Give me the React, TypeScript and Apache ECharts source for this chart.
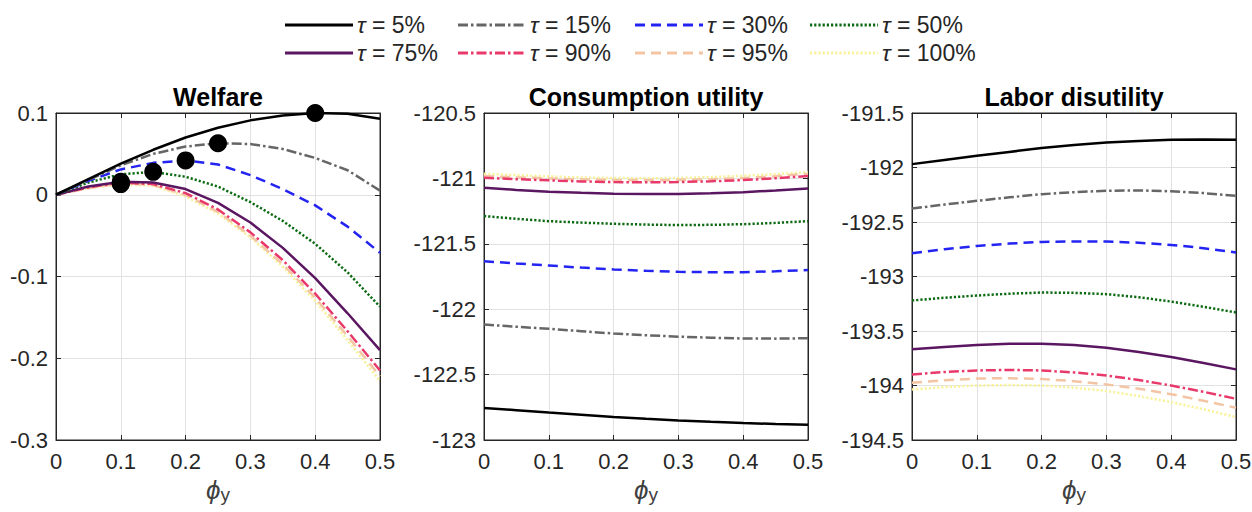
import React, { useEffect, useRef } from "react";
import * as echarts from "echarts";

// ---------- data ----------
const phiY = [0, 0.05, 0.1, 0.15, 0.2, 0.25, 0.3, 0.35, 0.4, 0.45, 0.5];
const tauLabels = ["τ = 5%", "τ = 15%", "τ = 30%", "τ = 50%", "τ = 75%", "τ = 90%", "τ = 95%", "τ = 100%"];
const panelTitles = ["Welfare", "Consumption utility", "Labor disutility"];

const welfare5 = [0, 0.019, 0.038, 0.055, 0.07, 0.082, 0.091, 0.097, 0.1, 0.099, 0.093];
const welfare15 = [0, 0.018, 0.036, 0.05, 0.059, 0.063, 0.062, 0.056, 0.045, 0.03, 0.005];
const welfare30 = [0, 0.017, 0.031, 0.039, 0.042, 0.037, 0.024, 0.007, -0.013, -0.039, -0.071];
const welfare50 = [0, 0.015, 0.025, 0.028, 0.022, 0.01, -0.009, -0.032, -0.06, -0.095, -0.137];
const welfare75 = [0, 0.01, 0.016, 0.015, 0.007, -0.01, -0.034, -0.065, -0.102, -0.145, -0.19];
const welfare90 = [0, 0.009, 0.015, 0.013, 0.002, -0.018, -0.046, -0.08, -0.121, -0.167, -0.215];
const welfare95 = [0, 0.008, 0.014, 0.012, 0.0, -0.021, -0.05, -0.085, -0.126, -0.173, -0.222];
const welfare100 = [0, 0.008, 0.013, 0.011, -0.002, -0.023, -0.052, -0.088, -0.13, -0.178, -0.228];

const optimumPhi = [0.4, 0.25, 0.2, 0.15, 0.1, 0.1, 0.1, 0.1];
const optimumWelfare = [0.1, 0.063, 0.042, 0.028, 0.016, 0.015, 0.014, 0.013];

const cons5 = [-122.755, -122.772, -122.79, -122.807, -122.824, -122.838, -122.85, -122.861, -122.87, -122.878, -122.883];
const cons15 = [-122.117, -122.134, -122.15, -122.168, -122.186, -122.199, -122.21, -122.218, -122.224, -122.225, -122.222];
const cons30 = [-121.633, -121.65, -121.666, -121.682, -121.696, -121.706, -121.714, -121.717, -121.717, -121.71, -121.7];
const cons50 = [-121.288, -121.309, -121.327, -121.338, -121.347, -121.353, -121.357, -121.355, -121.35, -121.34, -121.327];
const cons75 = [-121.071, -121.088, -121.102, -121.11, -121.117, -121.12, -121.12, -121.114, -121.105, -121.092, -121.077];
const cons90 = [-120.995, -121.006, -121.015, -121.023, -121.028, -121.03, -121.028, -121.022, -121.013, -120.999, -120.982];
const cons95 = [-120.982, -120.992, -121.0, -121.008, -121.013, -121.015, -121.013, -121.007, -120.998, -120.983, -120.964];
const cons100 = [-120.964, -120.975, -120.985, -120.993, -120.997, -120.999, -120.997, -120.99, -120.98, -120.967, -120.952];

const labor5 = [-191.969, -191.931, -191.893, -191.857, -191.822, -191.794, -191.77, -191.756, -191.746, -191.742, -191.746];
const labor15 = [-192.377, -192.34, -192.306, -192.274, -192.245, -192.226, -192.214, -192.21, -192.218, -192.235, -192.26];
const labor30 = [-192.787, -192.75, -192.72, -192.698, -192.683, -192.678, -192.68, -192.69, -192.71, -192.74, -192.78];
const labor50 = [-193.22, -193.195, -193.175, -193.158, -193.147, -193.15, -193.162, -193.19, -193.23, -193.278, -193.33];
const labor75 = [-193.668, -193.646, -193.628, -193.617, -193.616, -193.628, -193.653, -193.692, -193.739, -193.793, -193.852];
const labor90 = [-193.899, -193.876, -193.862, -193.857, -193.862, -193.88, -193.908, -193.95, -194.0, -194.058, -194.122];
const labor95 = [-193.975, -193.952, -193.936, -193.933, -193.94, -193.96, -193.99, -194.03, -194.08, -194.14, -194.204];
const labor100 = [-194.037, -194.015, -194.0, -193.996, -194.0, -194.02, -194.05, -194.097, -194.153, -194.218, -194.29];

const xTicks = { min: 0, max: 0.5, interval: 0.1 };
const yTicksWelfare = { min: -0.3, max: 0.1, interval: 0.1 };
const yTicksCons = { min: -123, max: -120.5, interval: 0.5 };
const yTicksLabor = { min: -194.5, max: -191.5, interval: 0.5 };

// ---------- styles ----------
const FONT = "'Liberation Sans', Arial, Helvetica, sans-serif";
const TEXT = "#262626";
const colors = ["#000000", "#666666", "#2424f2", "#0b6a12", "#5a1660", "#e83a6a", "#f3c5a5", "#f9f29c"];
const dashes: any[] = ["solid", [10, 3, 2.5, 3], [10, 6], [2.2, 2], "solid", [10, 3, 2.5, 3], [10, 6], [2.2, 2]];
const LW = 2.5;
const gridLefts = [56, 484, 912];
const legendLefts = [285, 458, 635, 810];
const legendCenters = [25, 53];

const panels = [
  [welfare5, welfare15, welfare30, welfare50, welfare75, welfare90, welfare95, welfare100],
  [cons5, cons15, cons30, cons50, cons75, cons90, cons95, cons100],
  [labor5, labor15, labor30, labor50, labor75, labor90, labor95, labor100],
];
const yTicks = [yTicksWelfare, yTicksCons, yTicksLabor];

const fmt = (v: number) => String(Number(v.toFixed(2)));

export default function App() {
  const ref = useRef<HTMLDivElement>(null);
  useEffect(() => {
    document.body.style.margin = "0";
    if (!ref.current) return;
    const chart = echarts.init(ref.current, undefined, { renderer: "svg" });

    const grids = gridLefts.map((left) => ({
      left,
      top: 113,
      width: 324,
      height: 327,
      containLabel: false,
      outerBoundsMode: "none",
      show: true,
      borderColor: TEXT,
      borderWidth: 1,
      backgroundColor: "#ffffff",
    }));

    const xAxes: any[] = [];
    const yAxes: any[] = [];
    gridLefts.forEach((_, gi) => {
      xAxes.push({
        type: "value",
        gridIndex: gi,
        ...xTicks,
        name: "{p|ϕ}{s|y}",
        nameLocation: "middle",
        nameGap: 33,
        nameTextStyle: {
          rich: {
            p: { fontFamily: FONT, fontStyle: "italic", fontSize: 26, color: "#404040" },
            s: { fontFamily: FONT, fontSize: 19, color: "#404040", padding: [10, 0, 0, 0] },
          },
        },
        axisLine: { show: true, onZero: false, lineStyle: { color: TEXT, width: 1 } },
        axisTick: { show: true, inside: true, length: 5, lineStyle: { color: TEXT } },
        axisLabel: { fontFamily: FONT, fontSize: 22, color: TEXT, margin: 10, formatter: fmt },
        splitLine: { show: true, lineStyle: { color: "#e2e2e2", width: 1 } },
      });
      xAxes.push({
        type: "value",
        gridIndex: gi,
        ...xTicks,
        position: "top",
        axisLine: { show: true, onZero: false, lineStyle: { color: TEXT, width: 1 } },
        axisTick: { show: true, inside: true, length: 5, lineStyle: { color: TEXT } },
        axisLabel: { show: false },
        splitLine: { show: false },
      });
      yAxes.push({
        type: "value",
        gridIndex: gi,
        ...yTicks[gi],
        axisLine: { show: true, onZero: false, lineStyle: { color: TEXT, width: 1 } },
        axisTick: { show: true, inside: true, length: 5, lineStyle: { color: TEXT } },
        axisLabel: { fontFamily: FONT, fontSize: 22, color: TEXT, margin: 8, formatter: fmt },
        splitLine: { show: true, lineStyle: { color: "#e2e2e2", width: 1 } },
      });
      yAxes.push({
        type: "value",
        gridIndex: gi,
        ...yTicks[gi],
        position: "right",
        axisLine: { show: true, onZero: false, lineStyle: { color: TEXT, width: 1 } },
        axisTick: { show: true, inside: true, length: 5, lineStyle: { color: TEXT } },
        axisLabel: { show: false },
        splitLine: { show: false },
      });
    });

    const series: any[] = [];
    panels.forEach((panel, gi) => {
      panel.forEach((vals, si) => {
        series.push({
          type: "line",
          name: tauLabels[si],
          xAxisIndex: gi * 2,
          yAxisIndex: gi * 2,
          data: phiY.map((x, k) => [x, vals[k]]),
          symbol: "none",
          color: colors[si],
          lineStyle: { color: colors[si], width: LW, type: dashes[si] },
          z: 10 - si,
        });
      });
    });
    series.push({
      type: "scatter",
      name: "optimum",
      xAxisIndex: 0,
      yAxisIndex: 0,
      data: optimumPhi.map((x, k) => [x, optimumWelfare[k]]),
      symbol: "circle",
      symbolSize: 18,
      itemStyle: { color: "#000000", opacity: 1 },
      z: 20,
    });

    const graphics: any[] = panelTitles.map((t, gi) => ({
      type: "text",
      x: gridLefts[gi] + 162,
      y: 97,
      style: {
        text: t,
        fontFamily: FONT,
        fontWeight: "bold",
        fontSize: 25,
        fill: "#000000",
        textAlign: "center",
        textVerticalAlign: "middle",
      },
    }));
    tauLabels.forEach((name, i) => {
      const lx = legendLefts[i % 4];
      const cy = legendCenters[Math.floor(i / 4)];
      graphics.push({
        type: "line",
        shape: { x1: lx, y1: cy, x2: lx + 68, y2: cy },
        style: {
          stroke: colors[i],
          lineWidth: 3,
          lineDash: dashes[i] === "solid" ? null : dashes[i],
        },
      });
      graphics.push({
        type: "text",
        x: lx + 72,
        y: cy,
        style: {
          text: name.replace("τ", "{i|τ}"),
          fontFamily: FONT,
          fontSize: 23,
          fill: TEXT,
          textVerticalAlign: "middle",
          rich: { i: { fontFamily: FONT, fontSize: 23, fontStyle: "italic", fill: TEXT } },
        },
      });
    });

    chart.setOption({
      animation: false,
      backgroundColor: "#ffffff",
      grid: grids,
      xAxis: xAxes,
      yAxis: yAxes,
      series,
      graphic: graphics,
    });
    return () => chart.dispose();
  }, []);
  return <div ref={ref} style={{ width: 1252, height: 512 }} />;
}
